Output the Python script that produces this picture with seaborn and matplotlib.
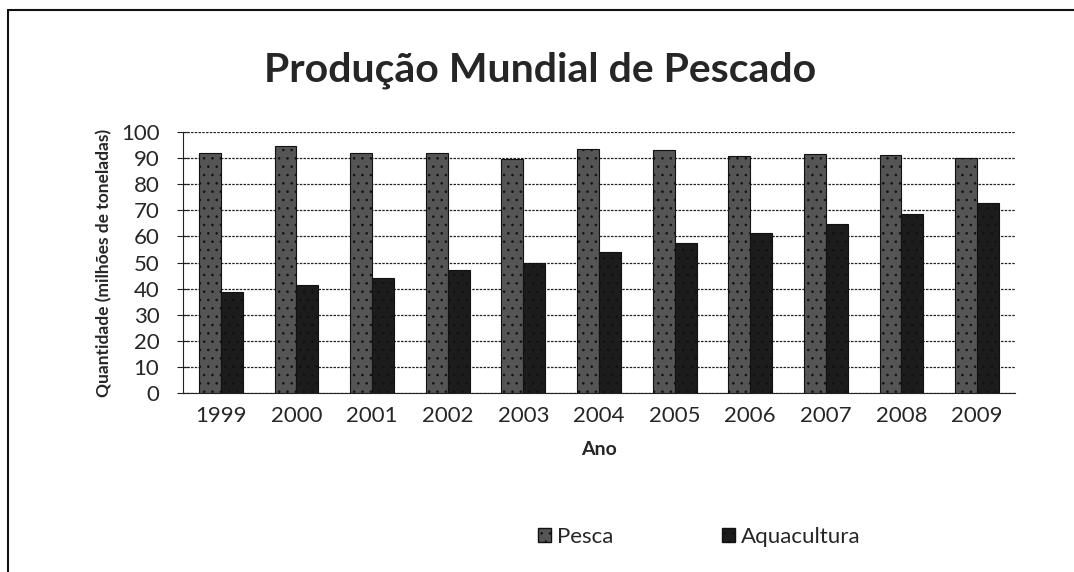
import pandas as pd
import matplotlib
matplotlib.use('Agg')
import matplotlib.pyplot as plt
import seaborn as sns
from matplotlib.patches import Rectangle
from matplotlib.lines import Line2D

# Dados (milhões de toneladas)
anos = ['1999', '2000', '2001', '2002', '2003', '2004', '2005', '2006', '2007', '2008', '2009']
pesca = [92.1, 94.8, 92.1, 92.1, 89.5, 93.5, 93.1, 90.8, 91.6, 91.1, 90.0]
aquacultura = [38.8, 41.4, 43.9, 47.1, 50.0, 54.1, 57.6, 61.4, 64.8, 68.6, 72.9]
series = ['Pesca', 'Aquacultura']
cores = ['#555555', '#1c1c1c']

df = pd.DataFrame({'Ano': anos * 2,
                   'Valor': pesca + aquacultura,
                   'Serie': ['Pesca'] * len(anos) + ['Aquacultura'] * len(anos)})

sns.set_style('white')
plt.rcParams['font.family'] = ['Lato', 'DejaVu Sans']
plt.rcParams['hatch.color'] = '#9a9a9a'
plt.rcParams['hatch.linewidth'] = 0.6

fig = plt.figure(figsize=(10.74, 5.72), dpi=100)
ax = fig.add_axes([0.1704, 0.3129, 0.7746, 0.4563])

sns.barplot(data=df, x='Ano', y='Valor', hue='Serie', hue_order=series,
            palette=cores, width=0.58, saturation=1, ax=ax, legend=False,
            edgecolor='#111111', linewidth=0.8)

# textura pontilhada
for patch in ax.patches:
    patch.set_hatch('..')

ax.set_ylim(0, 100)
ax.set_xlim(-0.5, len(anos) - 0.5)
ax.set_yticks(range(0, 101, 10))
ax.yaxis.grid(True, color='#222222', linestyle=(0, (2, 1)), linewidth=0.9)
ax.set_axisbelow(True)
for s in ['top', 'right']:
    ax.spines[s].set_visible(False)
ax.spines['left'].set_color('#222222')
ax.spines['bottom'].set_color('#222222')

ax.set_xticks([i - 0.5 for i in range(len(anos) + 1)], minor=True)
ax.tick_params(axis='x', which='minor', length=5, color='#222222', direction='out')
ax.tick_params(axis='x', which='major', length=0, pad=9, labelsize=16)
ax.tick_params(axis='y', length=8, direction='inout', color='#222222', labelsize=16, pad=13, left=True)

ax.set_xlabel('Ano', fontsize=14, fontweight='bold', labelpad=11)
ax.set_ylabel('Quantidade (milhões de toneladas)', fontsize=12.5, fontweight='bold', labelpad=6)

fig.text(0.503, 0.878, 'Produção Mundial de Pescado', ha='center', va='center',
         fontsize=29.5, fontweight='bold')

handles = [Rectangle((0, 0), 1, 1, facecolor=c, edgecolor='#111111', hatch='..') for c in cores]
fig.legend(handles, series, loc='center', bbox_to_anchor=(0.651, 0.061), ncol=2,
           frameon=False, fontsize=16, handlelength=0.6, handleheight=0.6,
           handletextpad=0.25, columnspacing=4.9)

# moldura externa (esquerda e topo)
fig.lines.append(Line2D([0.0075, 0.0075], [0.0, 0.983], transform=fig.transFigure,
                        color='#111111', linewidth=1.5))
fig.lines.append(Line2D([0.0075, 1.0], [0.983, 0.983], transform=fig.transFigure,
                        color='#111111', linewidth=1.5))

plt.savefig('out.png', dpi=100)
